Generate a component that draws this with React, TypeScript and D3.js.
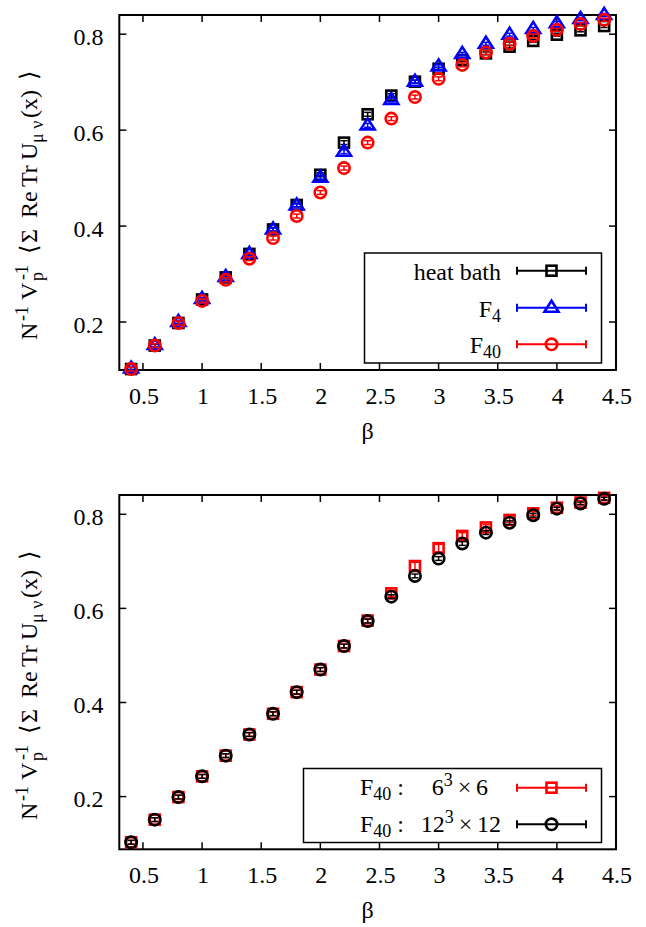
import React from 'react';
import * as d3 from 'd3';

const beta = [0.4, 0.6, 0.8, 1.0, 1.2, 1.4, 1.6, 1.8, 2.0, 2.2, 2.4, 2.6, 2.8, 3.0, 3.2, 3.4, 3.6, 3.8, 4.0, 4.2, 4.4];

// top panel
const heatBath = [0.102, 0.151, 0.198, 0.247, 0.293, 0.342, 0.393, 0.444, 0.507, 0.574, 0.633, 0.672, 0.701, 0.728, 0.746, 0.760, 0.774, 0.786, 0.799, 0.808, 0.817];
const heatBathErr = [0.003, 0.003, 0.003, 0.003, 0.003, 0.003, 0.004, 0.004, 0.004, 0.004, 0.004, 0.004, 0.003, 0.003, 0.003, 0.003, 0.003, 0.003, 0.003, 0.003, 0.003];
const f4 = [0.103, 0.152, 0.200, 0.248, 0.294, 0.342, 0.393, 0.443, 0.501, 0.555, 0.610, 0.663, 0.701, 0.733, 0.759, 0.780, 0.799, 0.811, 0.823, 0.832, 0.840];
const f4Err = [0.003, 0.003, 0.003, 0.003, 0.003, 0.003, 0.003, 0.003, 0.004, 0.004, 0.004, 0.004, 0.003, 0.003, 0.003, 0.003, 0.003, 0.003, 0.003, 0.003, 0.003];
const f40 = [0.102, 0.151, 0.198, 0.244, 0.288, 0.332, 0.375, 0.421, 0.470, 0.521, 0.574, 0.624, 0.669, 0.707, 0.736, 0.762, 0.780, 0.796, 0.809, 0.821, 0.830];
const f40Err = [0.004, 0.004, 0.004, 0.004, 0.004, 0.004, 0.004, 0.004, 0.004, 0.004, 0.004, 0.004, 0.004, 0.004, 0.004, 0.004, 0.004, 0.004, 0.003, 0.003, 0.003];

// bottom panel
const f40L6 = [0.103, 0.151, 0.199, 0.243, 0.287, 0.332, 0.376, 0.422, 0.470, 0.520, 0.574, 0.632, 0.690, 0.728, 0.754, 0.772, 0.788, 0.802, 0.814, 0.825, 0.835];
const f40L6Err = [0.004, 0.004, 0.004, 0.004, 0.004, 0.004, 0.004, 0.004, 0.004, 0.004, 0.005, 0.006, 0.008, 0.008, 0.007, 0.006, 0.005, 0.004, 0.004, 0.004, 0.004];
const f40L12 = [0.103, 0.151, 0.199, 0.243, 0.287, 0.332, 0.376, 0.422, 0.470, 0.520, 0.573, 0.625, 0.669, 0.706, 0.738, 0.761, 0.782, 0.798, 0.812, 0.823, 0.833];
const f40L12Err = [0.004, 0.004, 0.004, 0.004, 0.004, 0.004, 0.004, 0.004, 0.004, 0.004, 0.004, 0.004, 0.004, 0.004, 0.004, 0.004, 0.004, 0.004, 0.003, 0.003, 0.003];

const xTicks = [0.5, 1, 1.5, 2, 2.5, 3, 3.5, 4, 4.5];
const xTickLabels = ['0.5', '1', '1.5', '2', '2.5', '3', '3.5', '4', '4.5'];
const yTicks = [0.2, 0.4, 0.6, 0.8];
const yTickLabels = ['0.2', '0.4', '0.6', '0.8'];

const FONT = '"Liberation Serif", "Times New Roman", serif';

type MarkerType = 'square' | 'circle' | 'triangle';

function Marker({ type, x, y, color }: { type: MarkerType; x: number; y: number; color: string }) {
  const sw = 2.6;
  if (type === 'square') {
    const s = 10;
    return <rect x={x - s / 2} y={y - s / 2} width={s} height={s} fill="none" stroke={color} strokeWidth={sw} />;
  }
  if (type === 'circle') {
    return <circle cx={x} cy={y} r={5.7} fill="none" stroke={color} strokeWidth={sw} />;
  }
  return (
    <path
      d={`M${x},${y - 7} L${x + 7},${y + 4} L${x - 7},${y + 4} Z`}
      fill="none"
      stroke={color}
      strokeWidth={sw}
      strokeLinejoin="miter"
    />
  );
}

type Series = { ys: number[]; errs: number[]; color: string; marker: MarkerType };

function SeriesMarks({ s, x, y }: { s: Series; x: d3.ScaleLinear<number, number>; y: d3.ScaleLinear<number, number> }) {
  return (
    <g>
      {beta.map((b, i) => {
        const px = x(b);
        const py = y(s.ys[i]);
        const y0 = y(s.ys[i] - s.errs[i]);
        const y1 = y(s.ys[i] + s.errs[i]);
        return (
          <g key={i}>
            <line x1={px} x2={px} y1={y0} y2={y1} stroke={s.color} strokeWidth={1.5} />
            <line x1={px - 3.5} x2={px + 3.5} y1={y0} y2={y0} stroke={s.color} strokeWidth={1.5} />
            <line x1={px - 3.5} x2={px + 3.5} y1={y1} y2={y1} stroke={s.color} strokeWidth={1.5} />
            <Marker type={s.marker} x={px} y={py} color={s.color} />
          </g>
        );
      })}
    </g>
  );
}

function LegendSample({ cy, color, marker }: { cy: number; color: string; marker: MarkerType }) {
  const x0 = 517, x1 = 586, xm = 551.5;
  return (
    <g>
      <line x1={x0} x2={x1} y1={cy} y2={cy} stroke={color} strokeWidth={2} />
      <line x1={x0} x2={x0} y1={cy - 4} y2={cy + 4} stroke={color} strokeWidth={2} />
      <line x1={x1} x2={x1} y1={cy - 4} y2={cy + 4} stroke={color} strokeWidth={2} />
      <Marker type={marker} x={xm} y={cy} color={color} />
    </g>
  );
}

function YLabel({ baseX, bottomY }: { baseX: number; bottomY: number }) {
  const fs = 24;
  const ss = 18;
  const sup = -9;
  const sub = 6;
  const pieces: { t: string; x: number; dy: number; size: number }[] = [
    { t: 'N', x: 0, dy: 0, size: fs },
    { t: '-1', x: 19, dy: sup, size: ss },
    { t: 'V', x: 40, dy: 0, size: fs },
    { t: 'p', x: 59, dy: sub, size: ss },
    { t: '-1', x: 60, dy: sup, size: ss },
    { t: '\u27E8', x: 86, dy: 0, size: fs },
    { t: '\u03A3', x: 97, dy: 0, size: fs },
    { t: 'Re', x: 122, dy: 0, size: fs },
    { t: 'Tr', x: 153, dy: 0, size: fs },
    { t: 'U', x: 180, dy: 0, size: fs },
    { t: '\u03BC \u03BD', x: 197, dy: sub, size: ss },
    { t: '(x)', x: 222, dy: 0, size: fs },
    { t: '\u27E9', x: 260, dy: 0, size: fs },
  ];
  return (
    <g transform={`translate(${baseX},${bottomY}) rotate(-90)`} fontFamily={FONT}>
      {pieces.map((p, i) => (
        <text key={i} x={p.x} y={p.dy} fontSize={p.size}>{p.t}</text>
      ))}
    </g>
  );
}

function Panel({
  top, bottom, yDomain, series, children,
}: {
  top: number; bottom: number; yDomain: [number, number]; series: Series[]; children?: React.ReactNode;
}) {
  const left = 119.3, right = 616;
  const x = d3.scaleLinear().domain([0.3, 4.5]).range([left, right]);
  const y = d3.scaleLinear().domain(yDomain).range([bottom, top]);
  const tl = 7;
  return (
    <g>
      {xTicks.filter((t) => t < 4.5).map((t, i) => (
        <g key={'xt' + i}>
          <line x1={x(t)} x2={x(t)} y1={bottom} y2={bottom - tl} stroke="#000" strokeWidth={1.5} />
          <line x1={x(t)} x2={x(t)} y1={top} y2={top + tl} stroke="#000" strokeWidth={1.5} />
        </g>
      ))}
      {yTicks.map((t, i) => (
        <g key={'yt' + i}>
          <line x1={left} x2={left + tl} y1={y(t)} y2={y(t)} stroke="#000" strokeWidth={1.5} />
          <line x1={right} x2={right - tl} y1={y(t)} y2={y(t)} stroke="#000" strokeWidth={1.5} />
        </g>
      ))}
      {xTicks.map((t, i) => (
        <text key={'xl' + i} x={x(t) + 1} y={bottom + 34} textAnchor="middle" fontFamily={FONT} fontSize={24}>
          {xTickLabels[i]}
        </text>
      ))}
      {yTicks.map((t, i) => (
        <text key={'yl' + i} x={103.5} y={y(t) + 10.5} textAnchor="end" fontFamily={FONT} fontSize={24}>
          {yTickLabels[i]}
        </text>
      ))}
      <rect x={left} y={top} width={right - left} height={bottom - top} fill="none" stroke="#000" strokeWidth={2} />
      {children}
      {series.map((s, i) => (
        <SeriesMarks key={i} s={s} x={x} y={y} />
      ))}
      <text x={(left + right) / 2} y={bottom + 69} textAnchor="middle" fontFamily={FONT} fontSize={24}>
        {'\u03B2'}
      </text>
    </g>
  );
}

export default function App() {
  const topSeries: Series[] = [
    { ys: heatBath, errs: heatBathErr, color: '#000000', marker: 'square' },
    { ys: f4, errs: f4Err, color: '#0000ff', marker: 'triangle' },
    { ys: f40, errs: f40Err, color: '#ff0000', marker: 'circle' },
  ];
  const bottomSeries: Series[] = [
    { ys: f40L6, errs: f40L6Err, color: '#ff0000', marker: 'square' },
    { ys: f40L12, errs: f40L12Err, color: '#000000', marker: 'circle' },
  ];
  return (
    <svg width={646} height={927} style={{ position: 'absolute', left: 0, top: 0, background: '#fff' }}>
      <rect x={0} y={0} width={646} height={927} fill="#fff" />
      <Panel top={15} bottom={370} yDomain={[0.1, 0.84]} series={topSeries}>
        <rect x={364.5} y={253} width={237} height={110} fill="#fff" stroke="#000" strokeWidth={1.5} />
        <text x={501} y={280} textAnchor="end" fontFamily={FONT} fontSize={24}>heat bath</text>
        <text x={501} y={316.5} textAnchor="end" fontFamily={FONT} fontSize={24}>
          F<tspan fontSize={18} dy={5}>4</tspan>
        </text>
        <text x={501} y={352.5} textAnchor="end" fontFamily={FONT} fontSize={24}>
          F<tspan fontSize={18} dy={5}>40</tspan>
        </text>
        <LegendSample cy={270.7} color="#000000" marker="square" />
        <LegendSample cy={307.7} color="#0000ff" marker="triangle" />
        <LegendSample cy={344.3} color="#ff0000" marker="circle" />
      </Panel>
      <YLabel baseX={37} bottomY={340} />
      <Panel top={495} bottom={849.3} yDomain={[0.088, 0.841]} series={bottomSeries}>
        <rect x={303.5} y={768.5} width={298} height={74} fill="#fff" stroke="#000" strokeWidth={1.5} />
        <text x={360} y={795} fontFamily={FONT} fontSize={24}>
          F<tspan fontSize={18} dy={5}>40</tspan><tspan dy={-5}> :</tspan>
        </text>
        <text x={488} y={795} textAnchor="end" fontFamily={FONT} fontSize={24}>
          6<tspan fontSize={18} dy={-9}>3</tspan><tspan dy={9}>{'\u2009\u00D7\u2009'}6</tspan>
        </text>
        <text x={360} y={831.7} fontFamily={FONT} fontSize={24}>
          F<tspan fontSize={18} dy={5}>40</tspan><tspan dy={-5}> :</tspan>
        </text>
        <text x={501} y={831.7} textAnchor="end" fontFamily={FONT} fontSize={24}>
          12<tspan fontSize={18} dy={-9}>3</tspan><tspan dy={9}>{'\u2009\u00D7\u2009'}12</tspan>
        </text>
        <LegendSample cy={787.7} color="#ff0000" marker="square" />
        <LegendSample cy={824.3} color="#000000" marker="circle" />
      </Panel>
      <YLabel baseX={37} bottomY={820} />
    </svg>
  );
}
